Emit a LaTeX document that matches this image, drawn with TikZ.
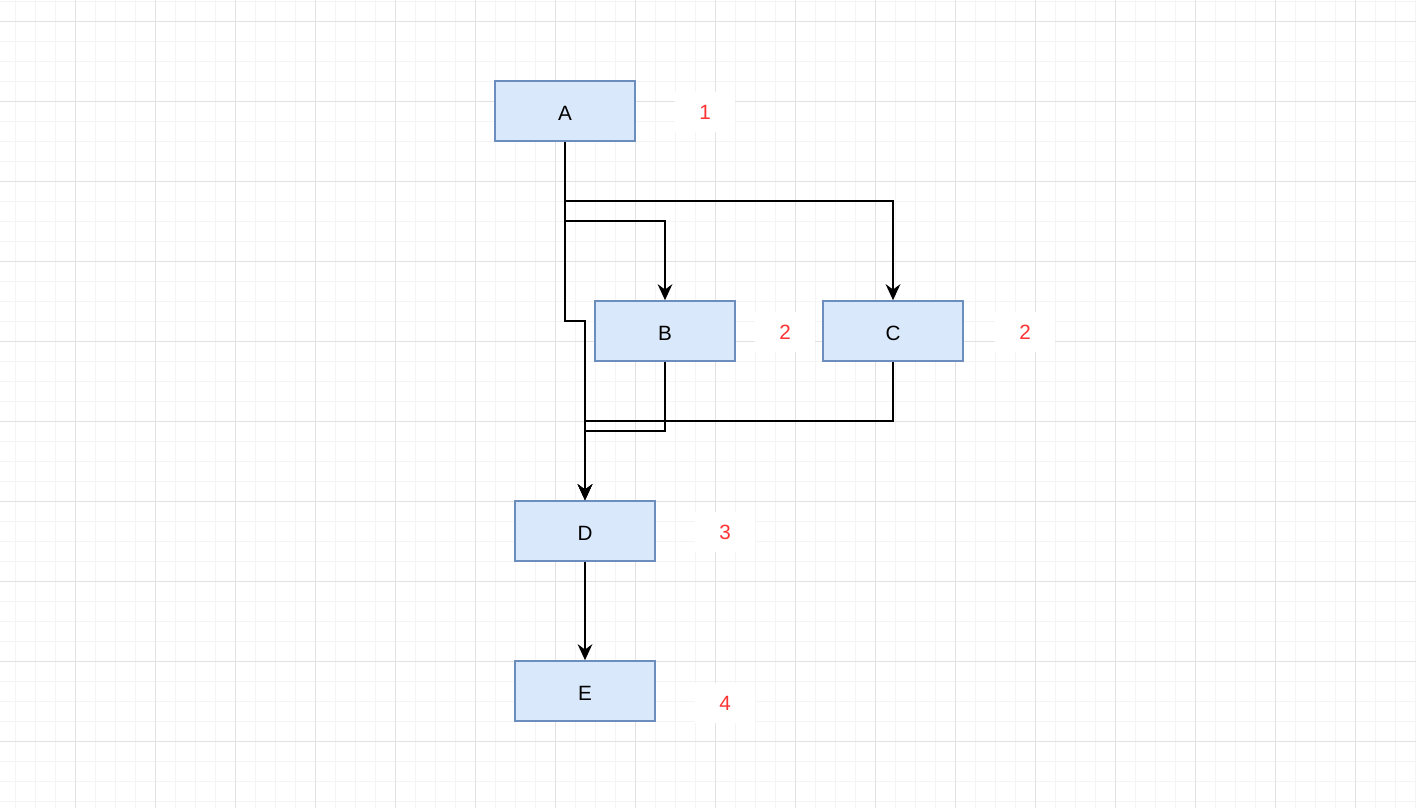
\documentclass[tikz,border=0pt]{standalone}
\usepackage{fontspec}
\setmainfont{Liberation Sans}
\usetikzlibrary{arrows.meta}
\definecolor{boxfill}{HTML}{DAE8FC}
\definecolor{boxline}{HTML}{6C8EBF}
\definecolor{numred}{HTML}{FF3333}
\definecolor{gridmin}{HTML}{F4F4F4}
\definecolor{gridmaj}{HTML}{E2E2E2}
\tikzset{
  blk/.style={draw=boxline, fill=boxfill, line width=1.2pt, minimum width=105pt, minimum height=45pt, inner sep=0pt, font=\fontsize{15.5}{18}\selectfont, text height=14pt, text depth=0pt},
  num/.style={fill=white, text=numred, minimum width=45pt, minimum height=30pt, inner sep=0pt, font=\fontsize{15.5}{18}\selectfont},
  conn/.style={draw=black, line width=1.5pt, -{Stealth[length=12pt,width=11pt,inset=4pt]}},
}
\begin{document}
\begin{tikzpicture}[x=0.75pt,y=-0.75pt]
\useasboundingbox (0,0) rectangle (1416,808);
\fill[white] (0,0) rectangle (1416,808);
\foreach \i in {0,...,70} {\draw[gridmin, line width=0.5pt] ({15+20*\i},0) -- ({15+20*\i},808);}
\foreach \j in {0,...,40} {\draw[gridmin, line width=0.5pt] (0,{1+20*\j}) -- (1416,{1+20*\j});}
\foreach \i in {0,...,17} {\draw[gridmaj, line width=0.6pt] ({75+80*\i},0) -- ({75+80*\i},808);}
\foreach \j in {0,...,10} {\draw[gridmaj, line width=0.6pt] (0,{21+80*\j}) -- (1416,{21+80*\j});}

\node[blk] (A) at (565,111) {A};
\node[blk] (B) at (665,331) {B};
\node[blk] (C) at (893,331) {C};
\node[blk] (D) at (585,531) {D};
\node[blk] (E) at (585,691) {E};

\node[num] (n1) at (705,112) {1};
\node[num] (n2) at (785,332) {2};
\node[num] (n3) at (1025,332) {2};
\node[num] (n4) at (725,532) {3};
\node[num] (n5) at (725,703) {4};

\draw[conn] (A.south) |- (565,221) -| (B.north);
\draw[conn] (A.south) |- (565,201) -| (C.north);
\draw[conn] (A.south) -- (565,321) -| (D.north);
\draw[conn] (B.south) |- (585,431) -- (D.north);
\draw[conn] (C.south) |- (585,421) -- (D.north);
\draw[conn] (D.south) -- (E.north);
\end{tikzpicture}
\end{document}
